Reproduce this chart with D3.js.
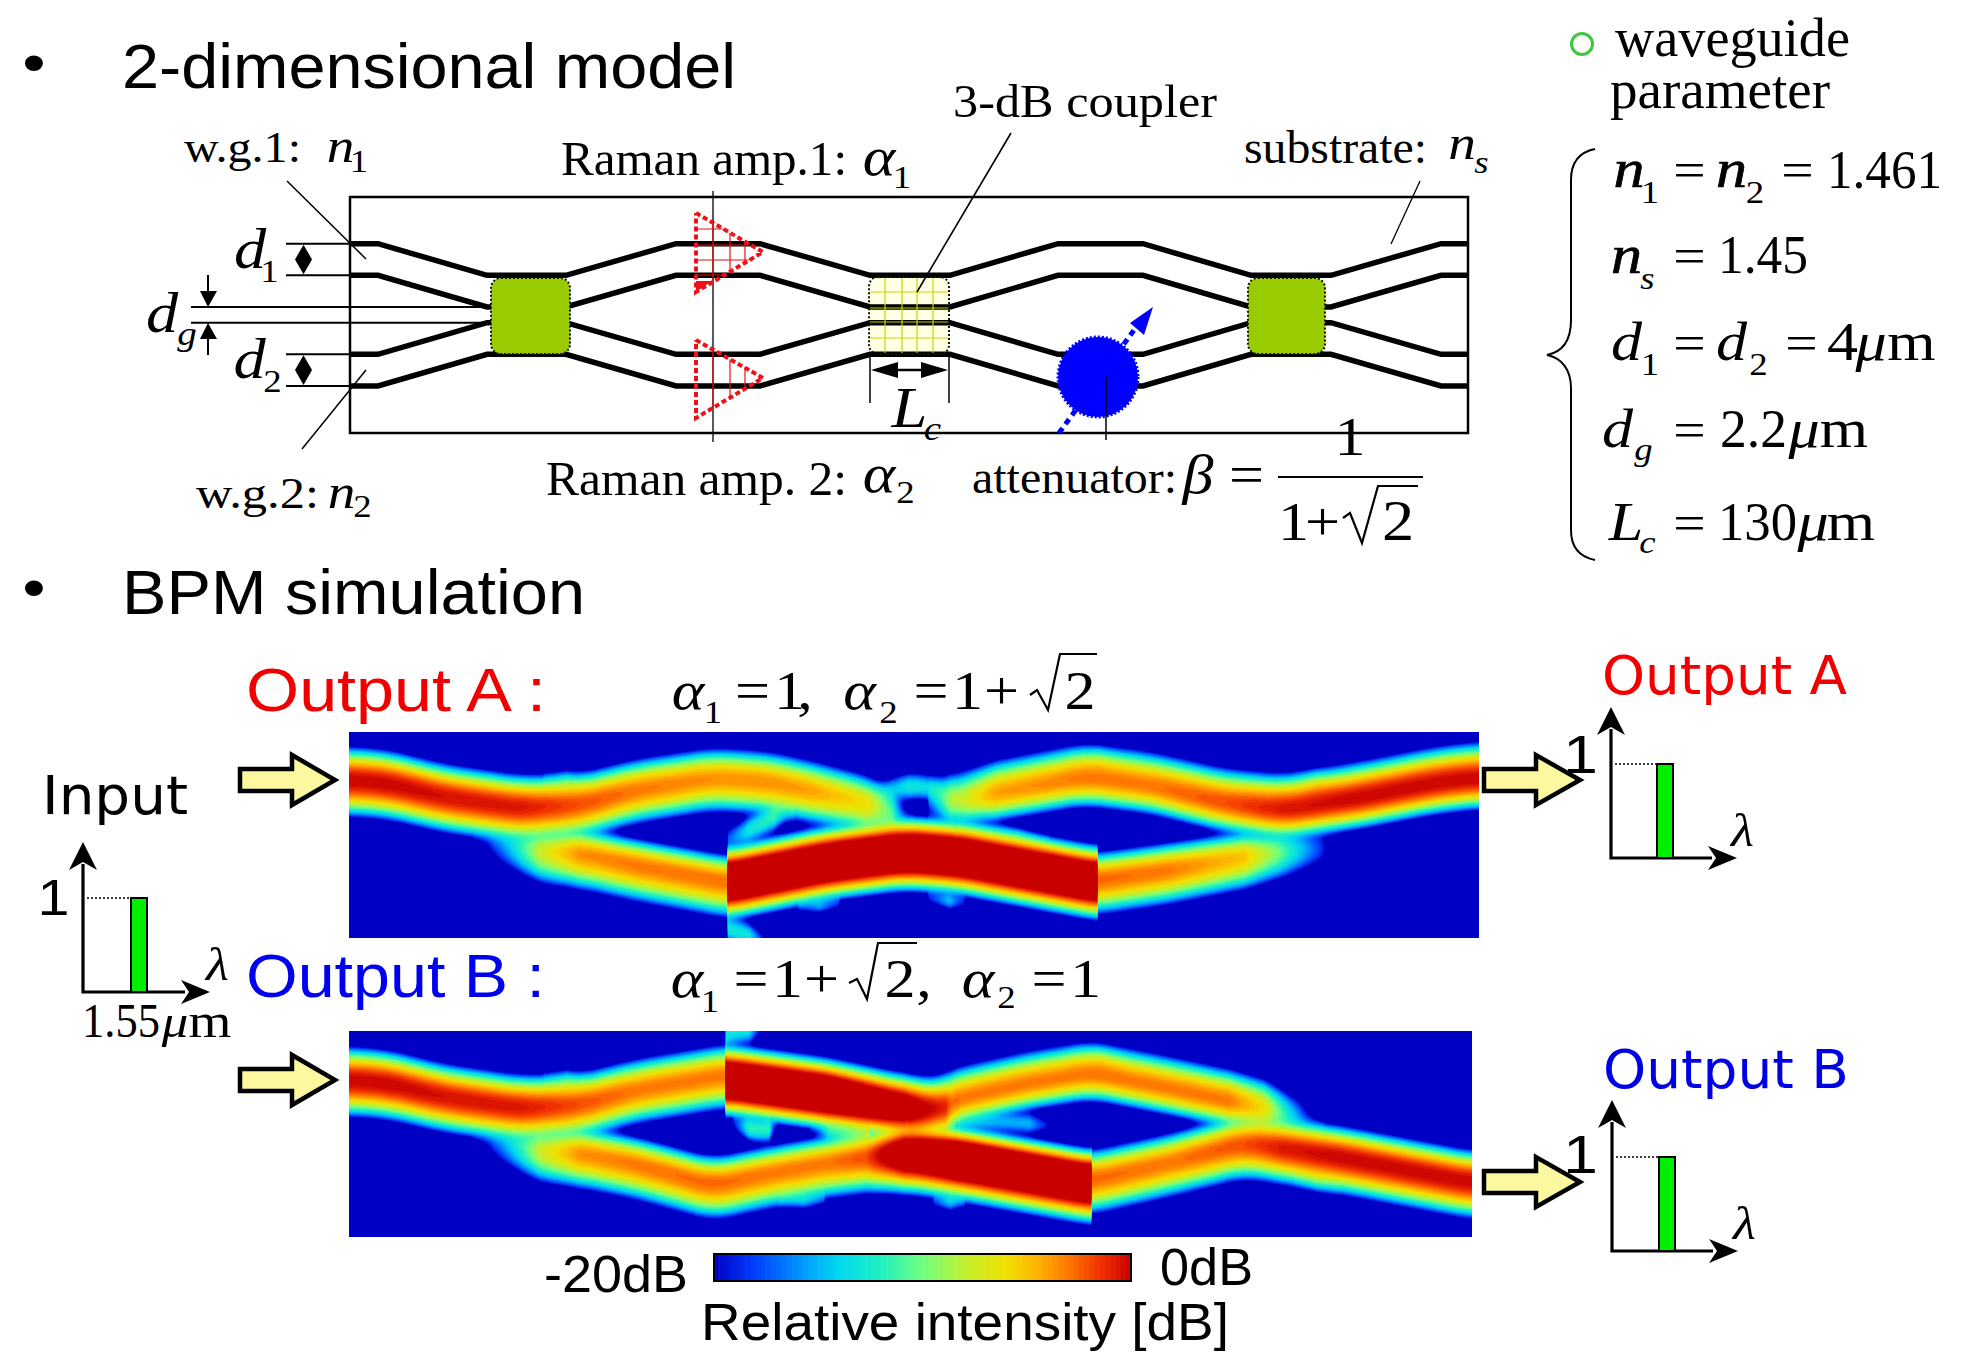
<!DOCTYPE html>
<html><head><meta charset="utf-8">
<script src="https://cdn.jsdelivr.net/npm/d3@7"></script>
<style>html,body{margin:0;padding:0;background:#fff;overflow:hidden}svg{display:block}</style>
</head><body><svg id="c" width="1967" height="1370" xmlns="http://www.w3.org/2000/svg"></svg>
<script>
// ---------- data: waveguide layout ----------
const guideStations = [0,28,137,216,326,410,520,600,708,793,901,981,1091,1118];
const guideLevelsUm = [0,4,8,10,14,18];
const guide1 = [0,0,1,1,0,0,1,1,0,0,1,1,0,0];
const guide2 = [1,1,2,2,1,1,2,2,1,1,2,2,1,1];
const guide3 = [4,4,3,3,4,4,3,3,4,4,3,3,4,4];
const guide4 = [5,5,4,4,5,5,4,4,5,5,4,4,5,5];

// ---------- data: BPM ridges, each point = [propagation z, transverse t, peak (1 = 0 dB, 0 = -20 dB)] ----------
const A_upperLeft = [[0,48,1],[38,51,1],[96,65,.98],[172,76,.97],[230,73,.9],[287,58,.85],[364,46,.82],[421,50,.82],[459,58,.8],[517,71,.7],[543,81,.45],[565,88,-.3]];
const A_lowerLeft = [[125,108,-.3],[145,111,.08],[191,120,.62],[230,121,.82],[287,133,.85],[379,150,.86]];
const A_centre    = [[379,150,1.3],[478,130,1.3],[555,120,1.3],[608,124,1.3],[748,150,1.3]];
const A_lowerRight= [[748,148,.87],[819,138,.85],[895,125,.75],[930,120,.5],[972,116,.08],[995,116,-.3]];
const A_upperRight= [[580,68,.1],[601,71,.55],[647,61,.8],[735,45,.85],[800,53,.85],[876,71,.9],[934,78,.97],[1010,66,1],[1087,51,1],[1130,46,1]];
const A_web1 = [[379,108,.1],[400,98,.35],[425,85,.4],[445,75,0]];
const A_web2 = [[520,65,.1],[560,52,.35],[590,58,.3],[612,65,0]];
const A_web3 = [[610,100,.15],[670,105,.2],[700,115,-.1]];
const A_leg  = [[379,195,.35],[400,205,.35],[428,215,-.2]];
const A_spike1 = [[450,172,0],[470,175,.2],[490,170,0]];
const A_spike2 = [[580,165,0],[600,170,.25],[615,170,0]];
const A_bump1 = [[945,60,0],[968,50,.3],[990,60,0]];
const A_bump2 = [[720,35,0],[750,30,.3],[775,40,0]];
const A_bump3 = [[195,55,0],[218,50,.3],[240,58,0]];

const B_upperLeft = [[0,49,1],[38,52,1],[96,66,.98],[172,77,.97],[230,74,.9],[287,59,.85],[377,44,.85]];
const B_lower     = [[125,108,-.3],[145,111,.08],[191,121,.62],[230,122,.82],[287,133,.85],[364,154,.87],[421,142,.85],[478,132,.85],[517,126,.9],[555,121,1.2],[608,127,1.3],[742,151,1.3]];
const B_upperStrong=[[377,49,1.3],[478,63,1.3],[555,77,1.15],[597,79,.85],[610,78,.3]];
const B_upperOrange=[[560,85,.5],[608,68,.85],[680,52,.85],[742,42,.85],[819,57,.85],[880,70,.85],[915,77,.7],[949,86,.2],[975,90,-.3]];
const B_lowerRight= [[742,149,.87],[819,132,.85],[895,112,.9],[934,117,.97],[991,126,1],[1049,137,1],[1123,151,1]];
const B_web1 = [[385,90,0],[400,100,.4],[420,100,.4],[428,95,-.2]];
const B_web2 = [[462,95,-.2],[480,100,.35],[520,102,.45]];
const B_web3 = [[610,90,.2],[680,92,.25],[700,95,0]];
const B_leg  = [[377,5,.35],[400,-5,.35],[418,0,-.2]];
const B_spike1 = [[430,165,0],[455,172,.2],[475,165,0]];
const B_spike2 = [[585,170,0],[601,172,.25],[615,170,0]];
const B_bump1 = [[720,35,0],[750,28,.3],[775,40,0]];
const B_bump2 = [[945,140,0],[968,145,.3],[990,150,0]];
const B_bump3 = [[195,55,0],[218,50,.3],[240,58,0]];

const colourStops = [0,.1,.2,.3,.4,.5,.6,.7,.78,.85,.93,1];
const colourNames = ["#0000c4","#0040ff","#0090ff","#00d8f0","#20f0c0","#70ff80","#c0f030","#f0e000","#ffb000","#ff7800","#f03000","#c80000"];
const colourTicks = [-20,0];
const spectrumValue = [1];

// ---------- setup ----------
const svg = d3.select("#c");
const SERIF="Liberation Serif", SANS="Liberation Sans", VERD="DejaVu Sans";
const colour = d3.scaleLinear().domain(colourStops).range(colourNames).interpolate(d3.interpolateRgb).clamp(true);

function T(x0,x1,y,s,o={}){
  const n=svg.append("text").attr("x",x0).attr("y",y).text(s)
    .attr("font-family",o.f||SERIF).attr("font-size",o.s||46)
    .attr("font-style",o.i?"italic":"normal")
    .attr("fill",o.c||"#000")
    .attr("stroke",o.b?(o.c||"#000"):"none").attr("stroke-width",o.b||0)
    .attr("lengthAdjust","spacingAndGlyphs");
  if(s.length===1){
    const a=n.node().getComputedTextLength()*1.15;
    n.attr("x",(x0+x1)/2-a/2).attr("textLength",a);
  } else n.attr("textLength",x1-x0);
}
function L(pts,w=1.5,c="#000",dash){
  const p=svg.append("path").attr("d",d3.line()(pts)).attr("fill","none").attr("stroke",c).attr("stroke-width",w);
  if(dash)p.attr("stroke-dasharray",dash); return p;
}
function P(pts,fill="#000",stroke="none",sw=0){
  return svg.append("path").attr("d",d3.line()(pts)+"Z").attr("fill",fill).attr("stroke",stroke).attr("stroke-width",sw).attr("stroke-linejoin","miter");
}

// ---------- headings ----------
T(24,44,82,"•",{f:SANS,s:58}); T(122,736,88,"2-dimensional model",{f:SANS,s:63});
T(24,44,607,"•",{f:SANS,s:58}); T(122,585,614,"BPM simulation",{f:SANS,s:63});

// ---------- device schematic ----------
const sx = d3.scaleLinear().domain([0,1118]).range([350,1468]);
const sy = d3.scaleLinear().domain([0,18]).range([243.7,385.9]);
const wgLine = d3.line().x((d,i)=>sx(guideStations[i])).y(d=>sy(guideLevelsUm[d]));

const c2 = {x:869,y:277,w:80,h:77};
svg.append("rect").attr("x",c2.x).attr("y",c2.y).attr("width",c2.w).attr("height",c2.h).attr("rx",9).attr("fill","#ffffe4");
// fine lines
L([[287,181],[366,259]],1.5); L([[302,449],[366,370]],1.5);
L([[286,sy(0)],[350,sy(0)]],2); L([[286,sy(4)],[350,sy(4)]],2);
L([[286,sy(14)],[350,sy(14)]],2); L([[286,sy(18)],[350,sy(18)]],2);
L([[191,sy(8)],[491,sy(8)]],2); L([[191,sy(10)],[491,sy(10)]],2);
L([[713,191],[713,442]],1.3);
[guide1,guide2,guide3,guide4].forEach(g=>svg.append("path").attr("d",wgLine(g)).attr("fill","none").attr("stroke","#000").attr("stroke-width",5.5));
svg.append("rect").attr("x",350).attr("y",197).attr("width",1118).attr("height",236).attr("fill","none").attr("stroke","#000").attr("stroke-width",2.5);

[[491,79],[1248,77]].forEach(([x,w])=>svg.append("rect").attr("x",x).attr("y",278).attr("width",w).attr("height",76).attr("rx",10).attr("fill","#99cc00").attr("stroke","#111").attr("stroke-width",2).attr("stroke-dasharray","2 2"));
svg.append("rect").attr("x",c2.x).attr("y",c2.y).attr("width",c2.w).attr("height",c2.h).attr("rx",9).attr("fill","none").attr("stroke","#111").attr("stroke-width",2).attr("stroke-dasharray","2 2");
[885,902,917,933].forEach(x=>L([[x,278],[x,353]],1.2,"#c8d400"));
[292,308,322,338].forEach(y=>L([[870,y],[948,y]],1.2,"#c8d400"));

// d arrows
[[0,4],[14,18]].forEach(([a,b])=>{const y0=sy(a),y1=sy(b),m=(y0+y1)/2;P([[303.5,y0+1],[312,m],[303.5,y1-1],[295,m]]);});
L([[208,275],[208,300]],2); P([[208,307],[200,291],[217,291]]);
L([[208,355],[208,330]],2); P([[208,323],[200,339],[217,339]]);
// Lc
L([[870,354],[870,403]],1.5); L([[949,354],[949,403]],1.5);
L([[880,370],[940,370]],2.5); P([[871,370],[898,362],[898,378]]); P([[948,370],[921,362],[921,378]]);
// leaders
L([[1011,133],[917,292]],1.6); L([[1420,181],[1391,244]],1.3);

// amplifiers
function amp(top,bot,apex,hs){
  const id="amp"+top;
  svg.append("clipPath").attr("id",id).append("path").attr("d",d3.line()([[696,top],[763,apex],[696,bot]])+"Z");
  const g=svg.append("g").attr("clip-path",`url(#${id})`);
  [713,730,745].forEach(x=>g.append("line").attr("x1",x).attr("x2",x).attr("y1",top).attr("y2",bot).attr("stroke","#e81010").attr("stroke-width",1.2));
  hs.forEach(y=>g.append("line").attr("x1",696).attr("x2",763).attr("y1",y).attr("y2",y).attr("stroke","#e81010").attr("stroke-width",1.2));
  L([[696,top],[763,apex],[696,bot],[696,top]],4,"#f01018","5 3");
}
amp(213,292,252,[229,245,260,275]); amp(340,418,378,[]);
P([[696,292],[712,281],[696,281]],"#f01018");

// attenuator
L([[1059,433],[1137,326]],5,"#0000ff","6 5");
P([[1130,323],[1144,335],[1153,307]],"#0000ff");
svg.append("circle").attr("cx",1098).attr("cy",377).attr("r",40).attr("fill","#0000ff").attr("stroke","#0000ff").attr("stroke-width",3).attr("stroke-dasharray","2 2");
L([[1106,377],[1106,440]],1.5);

// schematic text
T(184,301,162,"w.g.1:",{s:44}); T(329,352,162,"n",{i:1,s:48}); T(353,365,172,"1",{s:32});
T(196,319,508,"w.g.2:",{s:44}); T(329,354,508,"n",{i:1,s:48}); T(355,370,517,"2",{s:32});
T(561,847,175,"Raman amp.1:",{s:48}); T(862,896,175,"α",{i:1,s:54}); T(896,908,188,"1",{s:32});
T(546,847,495,"Raman amp. 2:",{s:48}); T(862,896,492,"α",{i:1,s:54}); T(898,913,503,"2",{s:32});
T(953,1217,117,"3-dB coupler",{s:46});
T(1244,1427,163,"substrate:",{s:46}); T(1450,1474,159,"n",{i:1,s:48}); T(1476,1487,173,"s",{i:1,s:32});
T(235,265,268,"d",{i:1,s:56}); T(264,275,282,"1",{s:32});
T(148,176,332,"d",{i:1,s:56}); T(178,196,345,"g",{i:1,s:34});
T(235,264,378,"d",{i:1,s:56}); T(265,280,392,"2",{s:32});
T(896,923,427,"L",{i:1,s:56}); T(926,939,440,"c",{i:1,s:34});
T(972,1177,493,"attenuator:",{s:46}); T(1179,1217,493,"β",{i:1,s:54}); T(1231,1262,493,"=",{s:54});
T(1342,1358,455,"1",{s:54}); L([[1278,477],[1423,477]],2);
T(1280,1307,540,"1",{s:54}); T(1309,1336,540,"+",{s:54}); T(1381,1415,540,"2",{s:56});
L([[1343,518],[1350,513],[1362,543],[1378,486],[1418,486]],2.2);

// parameter list
svg.append("circle").attr("cx",1582).attr("cy",44).attr("r",10.5).attr("fill","none").attr("stroke","#3cc83c").attr("stroke-width",3);
T(1615,1850,56,"waveguide",{s:54}); T(1610,1830,108,"parameter",{s:54});
svg.append("path").attr("d","M1595,149 C1580,152 1571,162 1571,180 L1571,320 C1571,342 1562,352 1547,355 C1562,358 1571,370 1571,388 L1571,530 C1571,548 1580,557 1595,560")
  .attr("fill","none").attr("stroke","#000").attr("stroke-width",2);
const eq=(x,y)=>T(x,x+29,y,"=",{s:50});
const SZ=54, SM=32;
T(1618,1640,187,"n",{i:1,s:SZ,b:.7}); T(1645,1655,203,"1",{s:SM}); eq(1675,187); T(1720,1743,187,"n",{i:1,s:SZ,b:.7}); T(1748,1762,203,"2",{s:SM}); eq(1783,187); T(1827,1942,188,"1.461",{s:SZ});
T(1615,1638,273,"n",{i:1,s:SZ,b:.7}); T(1642,1653,289,"s",{i:1,s:SM}); eq(1675,273); T(1718,1808,273,"1.45",{s:SZ});
T(1615,1638,360,"d",{i:1,s:SZ}); T(1645,1655,375,"1",{s:SM}); eq(1675,360); T(1720,1743,360,"d",{i:1,s:SZ}); T(1752,1765,375,"2",{s:SM}); eq(1787,360); T(1830,1855,360,"4",{s:SZ}); T(1858,1884,360,"μ",{i:1,s:SZ}); T(1888,1935,360,"m",{s:SZ});
T(1605,1630,447,"d",{i:1,s:SZ}); T(1635,1652,460,"g",{i:1,s:SM}); eq(1675,447); T(1720,1787,447,"2.2",{s:SZ}); T(1791,1817,447,"μ",{i:1,s:SZ}); T(1821,1867,447,"m",{s:SZ});
T(1612,1640,540,"L",{i:1,s:SZ}); T(1642,1653,553,"c",{i:1,s:SM}); eq(1675,540); T(1718,1797,540,"130",{s:SZ}); T(1800,1826,540,"μ",{i:1,s:SZ}); T(1829,1873,540,"m",{s:SZ});

// ---------- heat maps ----------
function heat(id,x0,x1,y0,y1,ridges){
  const nz=x1-x0, nt=y1-y0, step=1, pad=3;
  const zs=d3.scaleLinear().domain([0,nz]).range([x0,x1]);
  const ts=d3.scaleLinear().domain([0,nt]).range([y0,y1]);
  const w=Math.ceil((nz+2*pad)/step)+1, h=Math.ceil((nt+2*pad)/step)+1;
  const r=ridges.map(({pts,wu,wd})=>{
    const a=pts[0][0],b=pts[pts.length-1][0];
    const tt=d3.scaleLinear().domain(pts.map(p=>p[0])).range(pts.map(p=>p[1])).clamp(true);
    return {a,b,wu,wd:wd||wu,
      t:z=>(tt(z-16)+tt(z-8)+tt(z)+tt(z+8)+tt(z+16))/5,
      p:d3.scaleLinear().domain(pts.map(p=>p[0])).range(pts.map(p=>p[2]))};
  });
  const vals=new Float64Array(w*h).fill(-1);
  for(let i=0;i<w;i++){
    const z=Math.max(0,Math.min(nz,-pad+i*step));
    const act=r.filter(q=>z>=q.a&&z<=q.b).map(q=>({c:q.t(z),pk:q.p(z),wu:q.wu,wd:q.wd}));
    for(let j=0;j<h;j++){
      const t=-pad+j*step; let I=0;
      for(const q of act){const d=(t-q.c)/(t<q.c?q.wu:q.wd),v=q.pk-d*d; if(v>-.6)I+=Math.pow(10,2*v);}
      vals[j*w+i]=I>0?Math.max(-1,Math.log10(I)/2):-1;
    }
  }
  const levels=d3.range(0.02,1.001,0.02);
  const bands=d3.contours().size([w,h]).smooth(true).thresholds(levels)(vals);
  svg.append("clipPath").attr("id",id).append("rect").attr("x",x0).attr("y",y0).attr("width",nz).attr("height",nt);
  const g=svg.append("g").attr("clip-path",`url(#${id})`);
  g.append("rect").attr("x",x0).attr("y",y0).attr("width",nz).attr("height",nt).attr("fill",colour(0));
  const proj=d3.geoTransform({point(px,py){this.stream.point(zs(-pad+(px-.5)*step),ts(-pad+(py-.5)*step));}});
  const geo=d3.geoPath(proj);
  g.selectAll("path").data(bands).join("path").attr("d",geo).attr("fill",d=>colour(d.value+.01));
}
heat("hA",349,1479,732,938,[
 {pts:A_upperLeft,wu:34,wd:37},{pts:A_lowerLeft,wu:29,wd:40},{pts:A_centre,wu:33,wd:35},{pts:A_lowerRight,wu:30,wd:38},{pts:A_upperRight,wu:37,wd:32},
 {pts:A_web1,wu:22},{pts:A_web2,wu:22},{pts:A_web3,wu:18},{pts:A_leg,wu:22},{pts:A_spike1,wu:16},{pts:A_spike2,wu:16},
 {pts:A_bump1,wu:22},{pts:A_bump2,wu:22},{pts:A_bump3,wu:22}]);
heat("hB",349,1472,1031,1237,[
 {pts:B_upperLeft,wu:34,wd:37},{pts:B_lower,wu:30,wd:39},{pts:B_upperStrong,wu:33,wd:33},{pts:B_upperOrange,wu:35,wd:30},{pts:B_lowerRight,wu:32,wd:38},
 {pts:B_web1,wu:20},{pts:B_web2,wu:20},{pts:B_web3,wu:18},{pts:B_leg,wu:22},{pts:B_spike1,wu:16},{pts:B_spike2,wu:16},
 {pts:B_bump1,wu:22},{pts:B_bump2,wu:22},{pts:B_bump3,wu:22}]);

// ---------- arrows & spectra ----------
function bigArrow(x0,base,tip,cy){
  P([[x0,cy-11],[base,cy-11],[base,cy-25],[tip,cy],[base,cy+25],[base,cy+11],[x0,cy+11]],"#fcf8a0","#000",4.5);
}
bigArrow(240,292,335,780); bigArrow(240,292,335,1080);
bigArrow(1484,1536,1580,780); bigArrow(1484,1536,1580,1182);

function spectrum(ox,oy,tipY,tipX,yOne,bar0,bar1){
  const y=d3.scaleLinear().domain([0,1]).range([oy,yOne]);
  const bx=d3.scaleLinear().domain([0,1]).range([bar0,bar1]);
  L([[ox,tipY+22],[ox,oy],[tipX-25,oy]],3.2);
  P([[ox,tipY],[ox+14,tipY+28],[ox,tipY+20],[ox-14,tipY+28]]);
  P([[tipX,oy],[tipX-29,oy+12],[tipX-21,oy],[tipX-29,oy-12]]);
  svg.selectAll(null).data(spectrumValue).join("rect").attr("x",bx(0)).attr("width",bx(1)-bx(0))
    .attr("y",d=>y(d)).attr("height",d=>y(0)-y(d)).attr("fill","#00ee00").attr("stroke","#000").attr("stroke-width",2);
  L([[ox+4,y(1)],[bar0,y(1)]],1.6,"#000","2 2");
}
spectrum(83,992,842,210,898,131,147);
spectrum(1611,858,707,1737,764,1657,1673);
spectrum(1612,1251,1100,1738,1157,1659,1675);
T(42,188,814,"Input",{f:VERD,s:54});
T(1602,1847,694,"Output A",{f:VERD,s:54,c:"#f00000"});
T(1603,1849,1088,"Output B",{f:VERD,s:54,c:"#0000e6"});
T(45,62,915,"1",{f:SANS,s:50}); T(1573,1588,773,"1",{f:SANS,s:54}); T(1573,1588,1173,"1",{f:SANS,s:54});
T(205,230,980,"λ",{i:1,s:46}); T(1730,1755,846,"λ",{i:1,s:46}); T(1732,1757,1239,"λ",{i:1,s:46});
T(82,160,1037,"1.55",{s:48}); T(163,187,1037,"μ",{i:1,s:46}); T(190,230,1037,"m",{s:48});

T(246,546,711,"Output A :",{f:SANS,s:62,c:"#f00000"});
T(246,545,997,"Output B :",{f:SANS,s:62,c:"#0000f0"});

// formula A
const FZ=54, FS=32;
T(673,703,709,"α",{i:1,s:FZ}); T(708,718,723,"1",{s:FS}); T(738,767,709,"=",{s:FZ}); T(782,797,709,"1",{s:FZ}); T(802,808,709,",",{s:FZ});
T(844,875,709,"α",{i:1,s:FZ}); T(882,895,723,"2",{s:FS}); T(917,945,709,"=",{s:FZ}); T(960,975,709,"1",{s:FZ}); T(988,1015,709,"+",{s:FZ}); T(1067,1093,709,"2",{s:FZ});
L([[1030,695],[1037,690],[1048,710],[1060,654],[1097,654]],2.2);
// formula B
T(672,702,997,"α",{i:1,s:FZ}); T(705,715,1012,"1",{s:FS}); T(737,765,997,"=",{s:FZ}); T(780,795,997,"1",{s:FZ}); T(808,835,997,"+",{s:FZ}); T(887,913,997,"2",{s:FZ}); T(920,928,997,",",{s:FZ});
L([[849,983],[857,979],[867,999],[878,943],[917,943]],2.2);
T(963,993,997,"α",{i:1,s:FZ}); T(1000,1013,1008,"2",{s:FS}); T(1035,1063,997,"=",{s:FZ}); T(1078,1093,997,"1",{s:FZ});

// ---------- colour bar ----------
const cbx=d3.scaleLinear().domain(colourTicks).range([714,1131]);
const cbUnit=d3.scaleLinear().domain(colourTicks).range([0,1]);
svg.selectAll(null).data(d3.range(-20,0,.25)).join("rect")
  .attr("x",d=>cbx(d)).attr("width",d=>cbx(d+.25)-cbx(d)+.6).attr("y",1254).attr("height",27)
  .attr("fill",d=>colour(cbUnit(d+.125)));
svg.append("rect").attr("x",714).attr("y",1254).attr("width",417).attr("height",27).attr("fill","none").attr("stroke","#000").attr("stroke-width",2);
T(544,688,1292,colourTicks[0]+"dB",{f:SANS,s:52}); T(1160,1253,1285,colourTicks[1]+"dB",{f:SANS,s:52});
T(701,1229,1340,"Relative intensity [dB]",{f:SANS,s:52});
</script></body></html>
